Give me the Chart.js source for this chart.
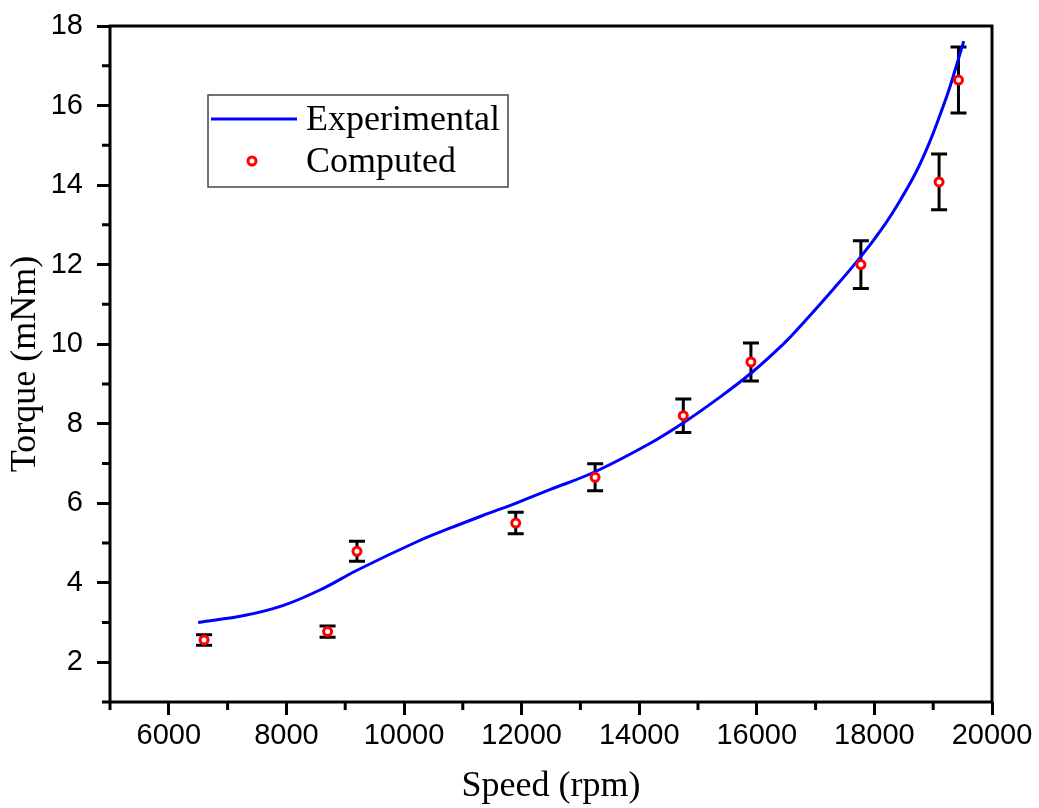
<!DOCTYPE html>
<html>
<head>
<meta charset="utf-8">
<script src="https://cdn.jsdelivr.net/npm/chart.js@4.4.1/dist/chart.umd.min.js"></script>
<style>
  html, body { margin: 0; padding: 0; background: #fff; }
  canvas { display: block; }
</style>
</head>
<body>
<canvas id="torqueChart" width="1039" height="808"></canvas>
<script>
// Computed torque, with error bar half-heights
const speedComputed = [6600, 8700, 9200, 11900, 13250, 14750, 15900, 17770, 19100, 19430];
const torqueComputed = [2.56, 2.77, 4.79, 5.50, 6.65, 8.20, 9.55, 12.00, 14.08, 16.64];
const torqueError = [0.13, 0.14, 0.25, 0.27, 0.34, 0.42, 0.48, 0.60, 0.70, 0.83];

// Experimental torque curve
const speedExp = [6500, 7300, 7950, 8630, 9210, 10220, 10780, 11340, 11920, 12480,
                  13250, 14180, 14760, 15320, 15910, 16450, 16740, 17300, 17780, 18150, 18440,
                  18720, 18950, 19120, 19260, 19370, 19520];
const torqueExp = [3.00, 3.18, 3.43, 3.86, 4.32, 5.03, 5.37, 5.69, 6.01, 6.34,
                   6.79, 7.50, 8.03, 8.61, 9.28, 10.00, 10.45, 11.38, 12.22, 12.95, 13.62,
                   14.36, 15.12, 15.78, 16.36, 16.88, 17.62];

const xMajorTicks = [6000, 8000, 10000, 12000, 14000, 16000, 18000, 20000];
const xMinorTicks = [5000, 7000, 9000, 11000, 13000, 15000, 17000, 19000];
const yMajorTicks = [2, 4, 6, 8, 10, 12, 14, 16, 18];
const yMinorTicks = [1, 3, 5, 7, 9, 11, 13, 15, 17];

const seriesNames = ['Experimental', 'Computed'];

const tickFont = { family: 'Liberation Sans', size: 29 };
const titleFont = { family: 'Liberation Serif', size: 36 };

// frame, minor ticks, error bars and the boxed legend
const extras = {
  id: 'extras',
  beforeDatasetsDraw(chart) {
    const { ctx, scales: { x, y } } = chart;
    ctx.save();
    ctx.strokeStyle = '#000';
    ctx.lineWidth = 3;
    speedComputed.forEach((s, i) => {
      const px = x.getPixelForValue(s);
      const hi = y.getPixelForValue(torqueComputed[i] + torqueError[i]);
      const lo = y.getPixelForValue(torqueComputed[i] - torqueError[i]);
      ctx.beginPath();
      ctx.moveTo(px, hi); ctx.lineTo(px, lo);
      ctx.moveTo(px - 8, hi); ctx.lineTo(px + 8, hi);
      ctx.moveTo(px - 8, lo); ctx.lineTo(px + 8, lo);
      ctx.stroke();
    });
    ctx.restore();
  },
  afterDraw(chart) {
    const { ctx, chartArea: a, scales: { x, y } } = chart;
    ctx.save();
    ctx.strokeStyle = '#000';
    ctx.lineWidth = 3;
    ctx.strokeRect(a.left, a.top, a.right - a.left, a.bottom - a.top);
    ctx.beginPath();
    xMinorTicks.forEach(v => {
      const px = x.getPixelForValue(v);
      ctx.moveTo(px, a.bottom); ctx.lineTo(px, a.bottom + 8);
    });
    yMinorTicks.forEach(v => {
      const py = y.getPixelForValue(v);
      ctx.moveTo(a.left, py); ctx.lineTo(a.left - 8, py);
    });
    ctx.stroke();

    // legend
    const lx = a.left + 98, ly = a.top + 69;
    ctx.strokeStyle = '#444';
    ctx.lineWidth = 1.5;
    ctx.strokeRect(lx, ly, 300, 92);
    const [lineSet, pointSet] = chart.data.datasets;
    ctx.strokeStyle = lineSet.borderColor;
    ctx.lineWidth = lineSet.borderWidth;
    ctx.beginPath();
    ctx.moveTo(lx + 3, ly + 24); ctx.lineTo(lx + 89, ly + 24);
    ctx.stroke();
    ctx.beginPath();
    ctx.arc(lx + 44, ly + 66, pointSet.pointRadius, 0, Math.PI * 2);
    ctx.fillStyle = pointSet.backgroundColor;
    ctx.fill();
    ctx.strokeStyle = pointSet.borderColor;
    ctx.lineWidth = pointSet.borderWidth;
    ctx.stroke();
    ctx.fillStyle = '#000';
    ctx.font = '36px "Liberation Serif"';
    ctx.textBaseline = 'alphabetic';
    ctx.fillText(seriesNames[0], lx + 98, ly + 35);
    ctx.fillText(seriesNames[1], lx + 98, ly + 77);
    ctx.restore();
  }
};

new Chart(document.getElementById('torqueChart'), {
  type: 'scatter',
  data: {
    datasets: [{
      label: seriesNames[0],
      data: speedExp.map((s, i) => ({ x: s, y: torqueExp[i] })),
      showLine: true,
      borderColor: '#0000ff',
      borderWidth: 3,
      pointRadius: 0,
      tension: 0.4,
      order: 1
    }, {
      label: seriesNames[1],
      data: speedComputed.map((s, i) => ({ x: s, y: torqueComputed[i] })),
      pointRadius: 4,
      borderWidth: 3,
      borderColor: '#ff0000',
      backgroundColor: '#ffffff',
      order: 0
    }]
  },
  options: {
    responsive: false,
    animation: false,
    devicePixelRatio: 1,
    layout: { padding: { top: 26, right: 47, left: 0, bottom: 0 } },
    plugins: { legend: { display: false }, tooltip: { enabled: false } },
    scales: {
      x: {
        type: 'linear',
        min: 5000,
        max: 20000,
        afterBuildTicks: s => { s.ticks = xMajorTicks.map(v => ({ value: v })); },
        afterFit: s => { s.height = 106; s.paddingLeft = 0; s.paddingRight = 0; },
        ticks: { font: tickFont, color: '#000', padding: 4, maxRotation: 0, autoSkip: false,
                 callback: v => String(v) },
        grid: { drawOnChartArea: false, drawTicks: true, tickLength: 13, tickWidth: 3, tickColor: '#000' },
        border: { display: false },
        title: { display: true, text: 'Speed (rpm)', font: titleFont, color: '#000', padding: { top: 0, bottom: 0 } }
      },
      y: {
        type: 'linear',
        min: 1,
        max: 18,
        afterBuildTicks: s => { s.ticks = yMajorTicks.map(v => ({ value: v })); },
        afterFit: s => { s.width = 110; s.paddingTop = 0; s.paddingBottom = 0; },
        ticks: { font: tickFont, color: '#000', padding: 14, autoSkip: false,
                 callback: v => String(v) },
        grid: { drawOnChartArea: false, drawTicks: true, tickLength: 13, tickWidth: 3, tickColor: '#000' },
        border: { display: false },
        title: { display: true, text: 'Torque (mNm)', font: titleFont, color: '#000', padding: { top: 4, bottom: 0 } }
      }
    }
  },
  plugins: [extras]
});
</script>
</body>
</html>
